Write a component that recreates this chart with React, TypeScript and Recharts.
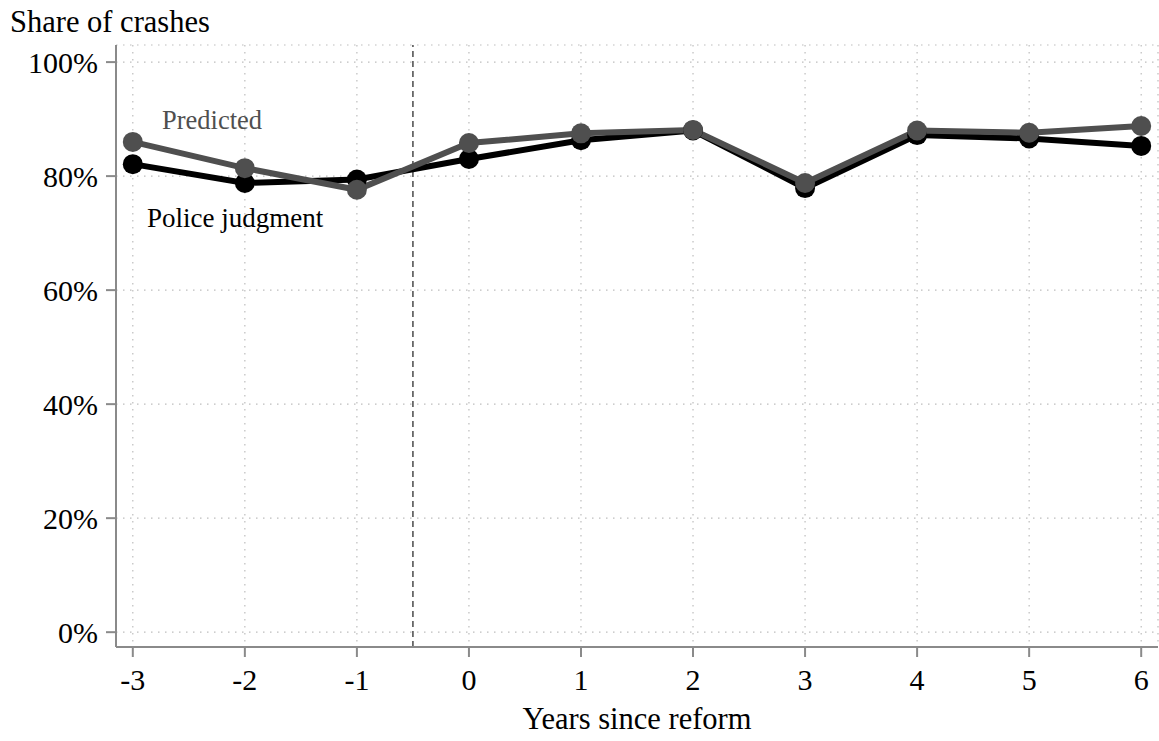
import { CartesianGrid, Line, LineChart, ReferenceLine, XAxis, YAxis } from "recharts";

// Years relative to the reform, and share of crashes (%) per series.
const years = [-3, -2, -1, 0, 1, 2, 3, 4, 5, 6];
const policeJudgment = [82.1, 78.8, 79.4, 83.0, 86.3, 88.0, 77.9, 87.2, 86.6, 85.3];
const predicted = [86.0, 81.4, 77.6, 85.8, 87.5, 88.1, 78.8, 88.0, 87.6, 88.8];
const yTicks = [0, 20, 40, 60, 80, 100];
const reformLine = -0.5;

const rows = years.map((t, i) => ({ t, police: policeJudgment[i], predicted: predicted[i] }));

const FONT = "'Liberation Serif', 'Times New Roman', serif";
const AXIS = "#8a8a8a";
const GRID = "#bdbdbd";
const PRED = "#4f4f4f";

export default function App() {
  return (
    <div style={{ position: "absolute", left: 0, top: 0, width: 1159, height: 741, background: "#fff" }}>
      <LineChart
        width={1159}
        height={741}
        data={rows}
        margin={{ top: 45, right: 1, bottom: 0, left: 0 }}
        style={{ fontFamily: FONT }}
      >
        <CartesianGrid stroke={GRID} strokeDasharray="1.5 5.5" strokeWidth={1.2} />
        <XAxis
          dataKey="t"
          type="number"
          domain={[-3.15, 6.15]}
          ticks={years}
          allowDataOverflow
          height={94}
          stroke={AXIS}
          strokeWidth={2}
          tickSize={10}
          tickMargin={12}
          tick={{ fill: "#000", fontSize: 30, fontFamily: FONT }}
        />
        <YAxis
          type="number"
          domain={[-2.6, 103]}
          ticks={yTicks}
          allowDataOverflow
          width={116}
          stroke={AXIS}
          strokeWidth={2}
          tickSize={10}
          tickMargin={8}
          tickFormatter={(v: number) => `${v}%`}
          tick={{ fill: "#000", fontSize: 30, fontFamily: FONT }}
        />
        <ReferenceLine x={reformLine} stroke="#555" strokeWidth={1.6} strokeDasharray="6 4" />
        <Line
          dataKey="police"
          stroke="#000"
          strokeWidth={6}
          dot={{ r: 10, fill: "#000", stroke: "none" }}
          activeDot={false}
          isAnimationActive={false}
        />
        <Line
          dataKey="predicted"
          stroke={PRED}
          strokeWidth={6}
          dot={{ r: 10, fill: PRED, stroke: "none" }}
          activeDot={false}
          isAnimationActive={false}
        />
      </LineChart>
      <svg
        width={1159}
        height={741}
        style={{ position: "absolute", left: 0, top: 0, pointerEvents: "none", fontFamily: FONT }}
      >
        <text x={10} y={32} fontSize={30.5} fill="#000">Share of crashes</text>
        <text x={162} y={129} fontSize={26.5} fill={PRED}>Predicted</text>
        <text x={147} y={227} fontSize={27} fill="#000">Police judgment</text>
        <text x={637} y={729} fontSize={30.5} fill="#000" textAnchor="middle">Years since reform</text>
      </svg>
    </div>
  );
}
